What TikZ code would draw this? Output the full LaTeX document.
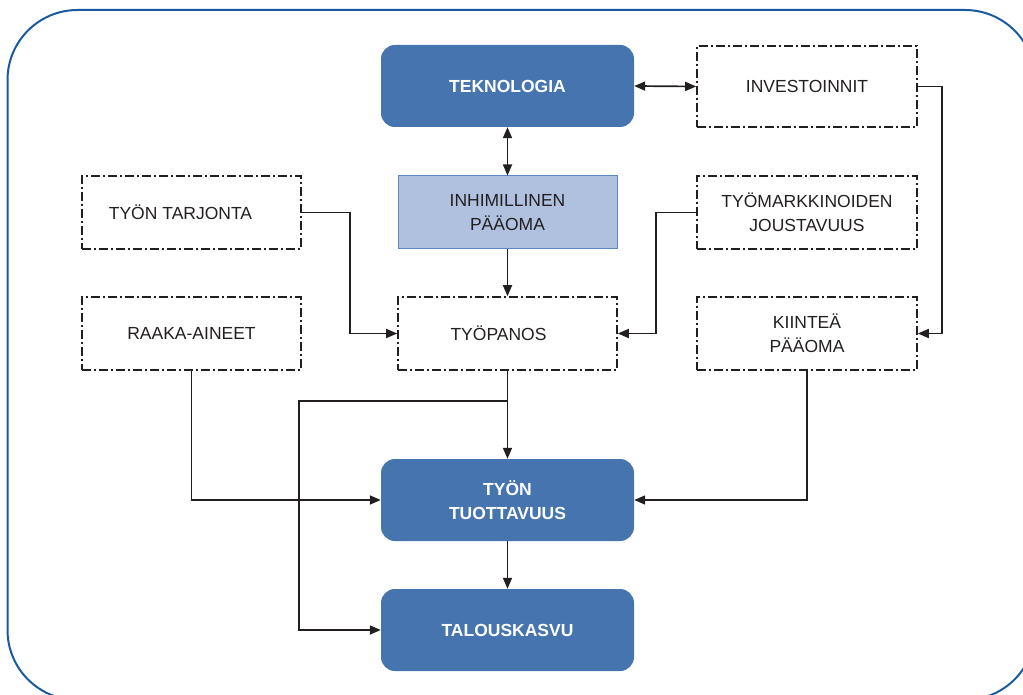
\documentclass[tikz,border=0pt]{standalone}
\usepackage{fontspec}
\setmainfont{Liberation Sans}
\usetikzlibrary{arrows.meta,calc}
\definecolor{bluefill}{HTML}{4674AF}
\definecolor{lightfill}{HTML}{AFC1DF}
\definecolor{lightborder}{HTML}{5B86C0}
\definecolor{framecol}{HTML}{1A5B9E}
\definecolor{ink}{HTML}{231F20}
\tikzset{
  bluebox/.style={fill=bluefill, draw=none, rounded corners=14pt, minimum width=253pt, minimum height=82pt,
    text=white, align=center, font=\fontsize{17.5}{24.5}\selectfont\bfseries, inner sep=0pt},
  dashbox/.style={draw=ink, line width=1.6pt, dash pattern=on 9pt off 3pt on 2pt off 3pt,
    minimum width=219pt, minimum height=73pt, text=ink, align=center,
    font=\fontsize{17.5}{24}\selectfont, inner sep=0pt},
  lightbox/.style={fill=lightfill, draw=lightborder, line width=1pt, minimum width=219pt, minimum height=73pt,
    text=ink, align=center, font=\fontsize{17.5}{24}\selectfont, inner sep=0pt},
  conn/.style={draw=ink, line width=1.7pt, -{Triangle[length=11pt,width=9pt]}},
  conn2/.style={draw=ink, line width=1.7pt, {Triangle[length=11pt,width=9pt]}-{Triangle[length=11pt,width=9pt]}},
  line/.style={draw=ink, line width=1.7pt}
}
\begin{document}
\begin{tikzpicture}[x=1pt,y=-1pt]
\useasboundingbox (0,0) rectangle (1023,695);
\clip (0,0) rectangle (1023,695);
\draw[framecol, line width=2pt, rounded corners=70pt] (7.5,10) rectangle (1035,700);

\node[bluebox] (tek) at (507.5,86) {TEKNOLOGIA};
\node[dashbox, minimum width=220pt, minimum height=81pt] (inv) at (807,86.5) {INVESTOINNIT};
\node[dashbox] (tt) at (191.5,212.5) {TYÖN TARJONTA\hspace{22pt}};
\node[lightbox] (ih) at (507.5,212.5) {INHIMILLINEN\\PÄÄOMA};
\node[dashbox, minimum width=220pt] (tm) at (807,212.5) {TYÖMARKKINOIDEN\\JOUSTAVUUS};
\node[dashbox] (ra) at (191.5,333.5) {RAAKA-AINEET};
\node[dashbox] (tp) at (507.5,333.5) {TYÖPANOS\hspace{18pt}};
\node[dashbox, minimum width=220pt] (kp) at (807,333.5) {KIINTEÄ\\PÄÄOMA};
\node[bluebox] (tu) at (507.5,500) {TYÖN\\TUOTTAVUUS};
\node[bluebox] (tk) at (507.5,630) {TALOUSKASVU};

\draw[conn2] (tek.east) -- (inv.west);
\draw[conn2] (tek.south) -- (ih.north);
\draw[conn] (ih.south) -- (tp.north);
\draw[conn] (tt.east) -- ++(48,0) |- (tp.west);
\draw[conn] (tm.west) -- ++(-40,0) |- (tp.east);
\draw[conn] (inv.east) -- ++(24,0) |- (kp.east);
\draw[conn] (tp.south) -- (tu.north);
\coordinate (br) at ($(tp.south)+(0,30)$);
\draw[conn] (br) -- ++(-208.5,0) |- (tk.west);
\draw[conn] (ra.south) |- (tu.west);
\draw[conn] (kp.south) |- (tu.east);
\draw[conn] (tu.south) -- (tk.north);
\end{tikzpicture}
\end{document}
